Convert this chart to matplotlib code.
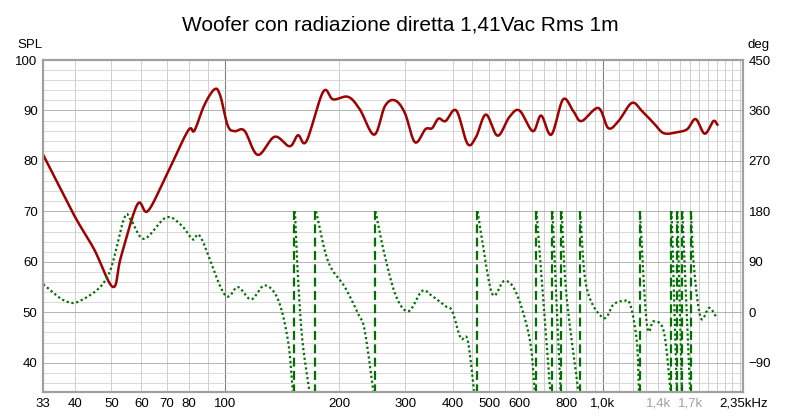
import numpy as np
import matplotlib
matplotlib.use("Agg")
import matplotlib.pyplot as plt
from matplotlib.ticker import FixedLocator, NullFormatter

title = "Woofer con radiazione diretta 1,41Vac Rms 1m"
spl_f = [33, 39.8, 45, 50.5, 53, 58.6, 62.3, 69, 79.6, 82.9, 88, 93.7, 97, 101.6, 105.9, 112.5, 122, 135.2, 148.2,
         155.9, 164.1, 181.7, 193.1, 211.7, 227.3, 248.1, 264.9, 281.6, 299, 318, 339, 353, 367, 383, 409, 438, 461,
         490, 526, 565, 601, 652, 686, 730, 784, 834, 877, 972, 1033, 1099, 1192, 1268, 1362, 1448, 1572, 1671,
         1759, 1859, 1959, 2008]
spl_db = [81.2, 69.3, 62.5, 55.0, 61.0, 71.4, 70.0, 76.2, 85.9, 86.0, 91.0, 94.2, 93.0, 87.0, 85.9, 86.0, 81.2, 84.8, 82.9,
          85.1, 83.9, 93.7, 92.2, 92.7, 90.2, 85.2, 90.9, 92.0, 89.5, 83.7, 86.3, 86.5, 88.4, 87.9, 90.0, 83.4, 84.7,
          89.2, 85.0, 88.7, 90.0, 85.9, 89.0, 85.2, 92.2, 89.9, 87.9, 90.5, 86.5, 87.9, 91.5, 89.9, 87.5, 85.5, 85.7, 86.3,
          88.3, 85.4, 87.9, 87.2]

# phase segments (Hz, deg), each segment ends where the curve wraps
phase_segments = [
    ([33, 37.5, 41.5, 48.8, 54.0, 56.3, 61.0, 69.7, 76.4, 82.1, 86.3, 99.6, 108.1, 117.2, 127.2, 138, 146.7, 151],
     [50, 21, 21, 63, 167, 165, 131, 169, 156, 130, 133, 32, 45, 23, 48, 23, -51, -140]),
    ([153, 155.9, 160, 167], [180, 63, -48, -140]),
    ([174, 187.5, 207.4, 225, 234, 246.7], [180, 90, 45, -3, -32, -140]),
    ([250, 265, 284, 306, 332, 353, 383, 399, 420, 438, 456], [180, 99, 27, 2, 38, 29, 11, 2, -46, -49, -140]),
    ([466, 479, 510, 548, 589, 639, 660], [180, 128, 32, 56, 35, -46, -140]),
    ([667, 725], [180, -140]),
    ([735, 772], [180, -140]),
    ([777, 800, 860], [180, 32, -140]),
    ([869, 905, 1002, 1066, 1133, 1180, 1229, 1245], [180, 44, -10, 14, 20, 14, -52, -140]),
    ([1252, 1307, 1362, 1448, 1510], [180, -22, -16, -34, -140]),
    ([1519, 1568], [180, -140]),
    ([1573, 1618], [180, -140]),
    ([1622, 1700], [180, -140]),
    ([1708, 1741, 1814, 1910, 2001], [180, 80, -10, 8, -10]),
]
wrap_f = [152, 173, 249, 465, 666, 734, 776, 868, 1250, 1518, 1572, 1621, 1706]

xticks = [33, 40, 50, 60, 70, 80, 100, 200, 300, 400, 500, 600, 800, 1000, 1400, 1700, 2350]
xlabels = ["33", "40", "50", "60", "70", "80", "100", "200", "300", "400", "500", "600", "800", "1,0k", "1,4k", "1,7k", "2,35kHz"]


def smooth(fs, vs, n=12):
    """Catmull-Rom rendering through the points in log-frequency."""
    x = np.log10(np.asarray(fs, float)); y = np.asarray(vs, float)
    if len(x) < 3:
        return fs, vs
    px = np.concatenate([[2 * x[0] - x[1]], x, [2 * x[-1] - x[-2]]])
    py = np.concatenate([[2 * y[0] - y[1]], y, [2 * y[-1] - y[-2]]])
    ox, oy = [], []
    t = np.linspace(0, 1, n, endpoint=False)
    for i in range(1, len(px) - 2):
        p0, p1, p2, p3 = [np.array([px[j], py[j]]) for j in (i - 1, i, i + 1, i + 2)]
        for tt in t:
            pt = 0.5 * ((2 * p1) + (-p0 + p2) * tt + (2 * p0 - 5 * p1 + 4 * p2 - p3) * tt ** 2
                        + (-p0 + 3 * p1 - 3 * p2 + p3) * tt ** 3)
            ox.append(pt[0]); oy.append(pt[1])
    ox.append(x[-1]); oy.append(y[-1])
    return 10 ** np.array(ox), np.array(oy)


plt.rcParams['font.family'] = ['Liberation Sans', 'DejaVu Sans']
fig = plt.figure(figsize=(8, 4.17), dpi=100)
ax = fig.add_axes([0.054, 0.060, 0.875, 0.796])
ylo = 34.2
ax.set_xscale('log')
ax.set_xlim(33, 2350)
ax.set_ylim(ylo, 100)

minor_x = []
for dec in [10, 100, 1000]:
    for m in range(1, 10):
        v = dec * m
        if 33 <= v <= 2350:
            minor_x.append(v)
for v in [1100, 1200, 1300, 1400, 1500, 1600, 1700, 1800, 1900, 2100, 2200, 2300, 450, 550, 650, 750, 850, 950]:
    minor_x.append(v)
for v in minor_x:
    c = '#808080' if v in (100, 1000) else '#c8c8c8'
    ax.axvline(v, color=c, lw=0.8 if v in (100, 1000) else 0.6, zorder=0)
for y in np.arange(36, 100, 2):
    ax.axhline(y, color='#a8a8a8' if y % 10 == 0 else '#d4d4d4', lw=0.6, zorder=0)

sf, sv = smooth(spl_f, spl_db)
ax.plot(sf, sv, color='#a00000', lw=1.8, zorder=3)

ax2 = ax.twinx()
ax2.set_ylim((ylo - 50) * 9, 450)
ax2.set_xlim(33, 2350)
for fs, ps in phase_segments:
    pf, pv = smooth(fs, ps)
    ax2.plot(pf, pv, color='#007000', lw=1.6, ls=(0, (1, 1.2)), zorder=2)
for w in wrap_f:
    ax2.plot([w, w], [180, (ylo - 50) * 9], color='#007000', lw=1.6, ls=(0, (4, 2)), zorder=2)

ax.xaxis.set_major_locator(FixedLocator(xticks))
ax.set_xticklabels(xlabels)
ax.xaxis.set_minor_formatter(NullFormatter())
ax.xaxis.set_minor_locator(FixedLocator([]))
for lbl in ax.get_xticklabels():
    if lbl.get_text() in ("1,4k", "1,7k"):
        lbl.set_color('#a0a0a0')
ax.set_yticks([40, 50, 60, 70, 80, 90, 100])
ax2.set_yticks([-90, 0, 90, 180, 270, 360, 450])
for a in (ax, ax2):
    a.tick_params(length=0, labelsize=9.5, pad=4)
for s in list(ax.spines.values()) + list(ax2.spines.values()):
    s.set_color('#a0a0a0'); s.set_linewidth(1.5)

fig.text(0.5, 0.94, title, ha='center', va='center', fontsize=15)
fig.text(0.022, 0.885, "SPL", fontsize=9.5)
fig.text(0.935, 0.885, "deg", fontsize=9.5)
fig.savefig("out.png", dpi=100, facecolor='white')
